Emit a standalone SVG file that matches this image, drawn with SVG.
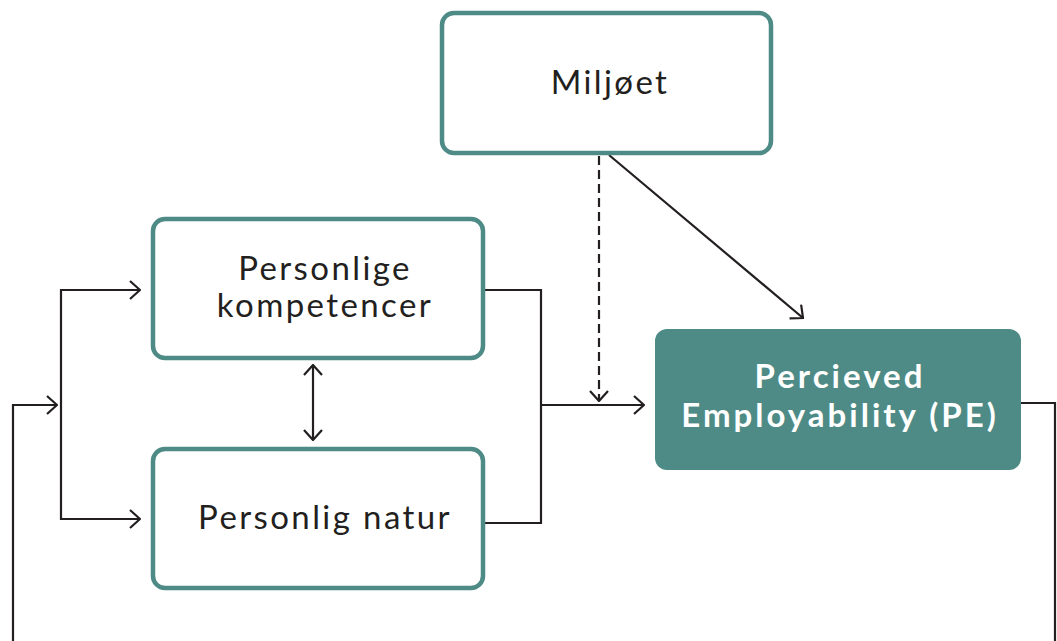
<svg xmlns="http://www.w3.org/2000/svg" width="1057" height="641" viewBox="0 0 1057 641">
<style>
.box{fill:#fff;stroke:#4E8B86;stroke-width:4.5}
.pe{fill:#4E8B86}
.t{font-family:Lato,"Noto Sans",sans-serif;font-size:33px;fill:#231f20;text-anchor:middle;letter-spacing:2.4px}
.tb{font-family:Lato,"Noto Sans",sans-serif;font-size:33px;font-weight:bold;fill:#fff;text-anchor:middle;letter-spacing:3px}
.c{fill:none;stroke:#231f20;stroke-width:2.2}
</style>
<defs>
<marker id="a" viewBox="0 0 12 20" refX="11" refY="10" markerWidth="12" markerHeight="20" markerUnits="userSpaceOnUse" orient="auto-start-reverse">
<polyline points="1,1 11,10 1,19" fill="none" stroke="#231f20" stroke-width="2.2"/>
</marker>
</defs>
<rect width="1057" height="641" fill="#fff"/>
<g id="connectors">
<polyline class="c" points="13,641 13,405 57,405" marker-end="url(#a)"/>
<polyline class="c" points="140,290 61,290 61,519 140,519" marker-start="url(#a)" marker-end="url(#a)"/>
<line class="c" x1="313" y1="365" x2="313" y2="440" marker-start="url(#a)" marker-end="url(#a)"/>
<polyline class="c" points="483,290 541,290 541,523 483,523"/>
<line class="c" x1="541" y1="405" x2="644" y2="405" marker-end="url(#a)"/>
<line class="c" x1="599" y1="156" x2="599" y2="401" stroke-dasharray="9,5" marker-end="url(#a)"/>
<line class="c" x1="609" y1="155" x2="803" y2="318" marker-end="url(#a)"/>
<polyline class="c" points="1021,403 1055,403 1055,641"/>
</g>
<g id="miljoet">
<rect class="box" x="442" y="13" width="329" height="140" rx="12"/>
<text class="t" x="610" y="94">Miljøet</text>
</g>
<g id="kompetencer">
<rect class="box" x="153" y="219" width="330" height="139" rx="12"/>
<text class="t" x="325" y="280">Personlige</text>
<text class="t" x="325" y="317">kompetencer</text>
</g>
<g id="natur">
<rect class="box" x="153" y="449" width="330" height="139" rx="12"/>
<text class="t" x="325" y="529">Personlig natur</text>
</g>
<g id="pe">
<rect class="pe" x="655" y="329" width="366" height="141" rx="12"/>
<text class="tb" x="840" y="388">Percieved</text>
<text class="tb" x="840" y="427">Employability (PE)</text>
</g>
</svg>
